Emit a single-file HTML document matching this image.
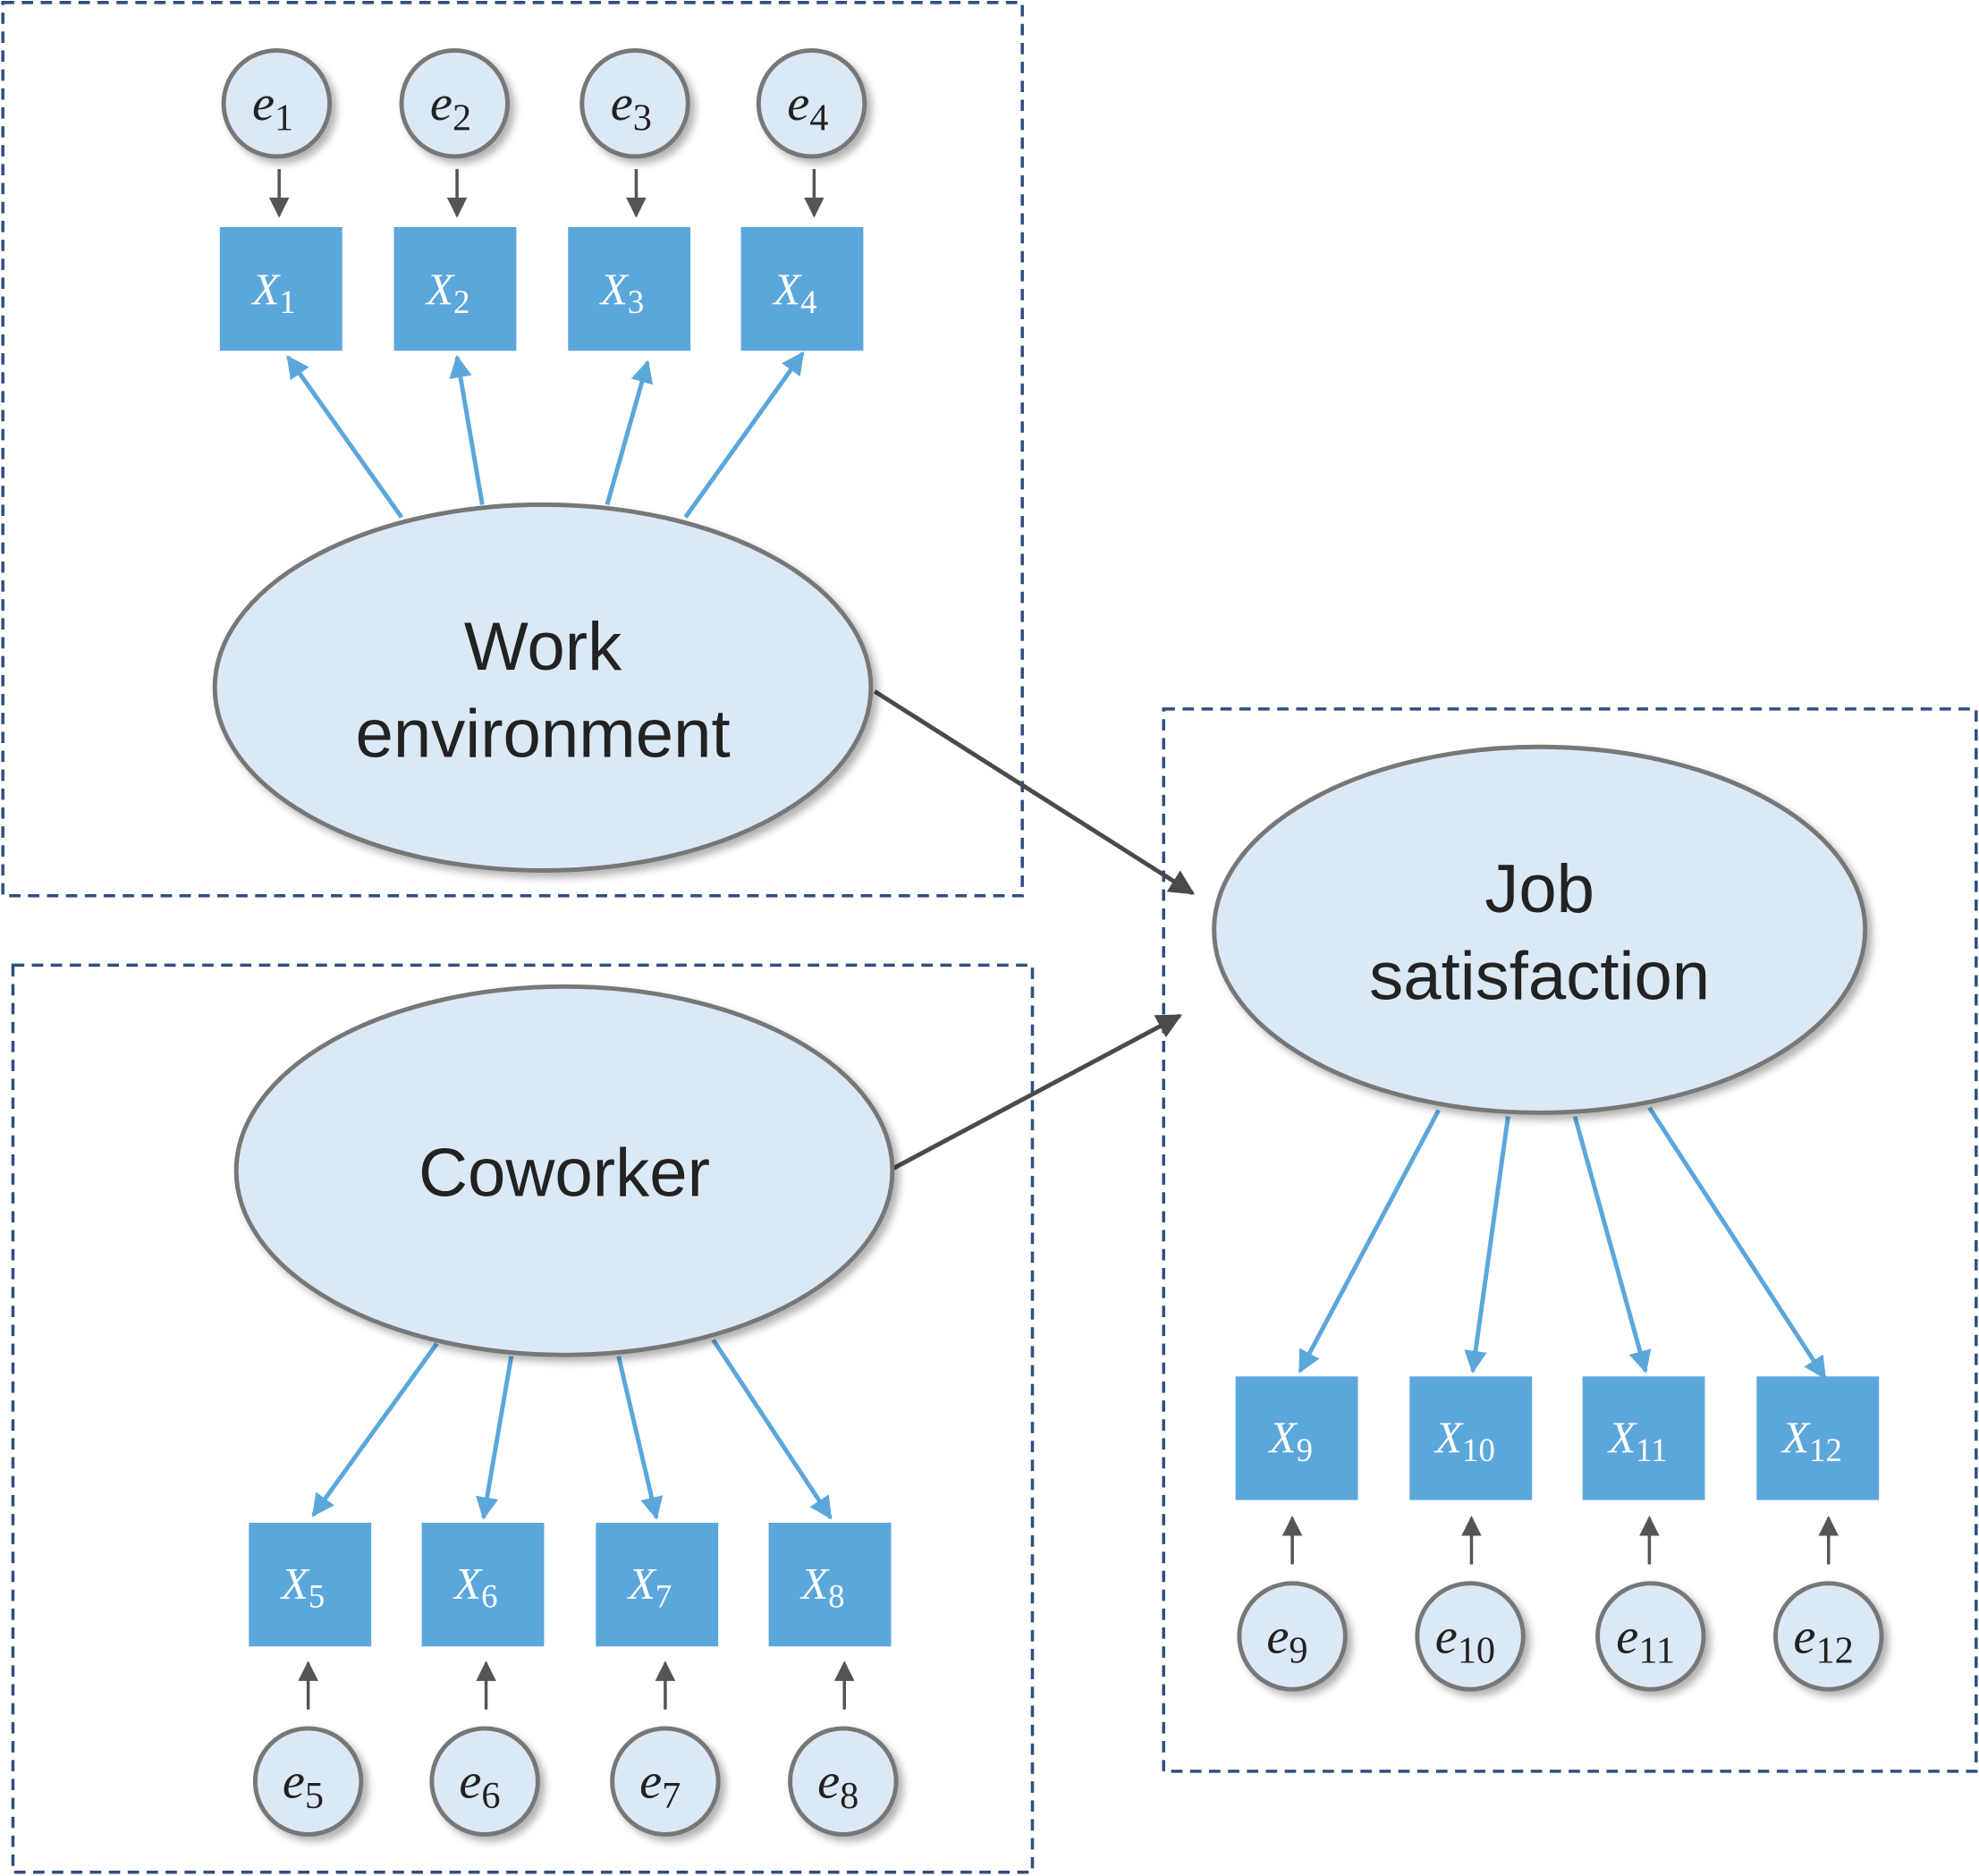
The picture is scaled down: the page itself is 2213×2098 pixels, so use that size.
<!DOCTYPE html>
<html><head><meta charset="utf-8"><style>
html,body{margin:0;padding:0;background:#fff;}
svg{display:block;}
.e{fill:#dbe9f6;stroke:#777;stroke-width:3.5;filter:url(#sh);}
.sq{fill:#5ba7dc;}
.dk{stroke:#555;stroke-width:2.5;marker-end:url(#ad);}
.bk{stroke:#4a4a4a;stroke-width:3.5;marker-end:url(#ak);}
.box{fill:none;stroke:#2f4f7f;stroke-width:2.5;stroke-dasharray:9 6;}
.lt{font-family:"Liberation Serif",serif;font-style:italic;font-size:40px;fill:#222;text-anchor:middle;}
.xt{font-family:"Liberation Serif",serif;font-style:italic;font-size:35px;fill:#fff;text-anchor:middle;}
.big{font-family:"Liberation Sans",sans-serif;font-size:54px;fill:#222;text-anchor:middle;}
.ell{fill:#dbe9f6;stroke:#777;stroke-width:3.5;filter:url(#sh);}
</style></head><body>
<svg width="2213" height="2098" viewBox="0 0 1568 1487" xmlns="http://www.w3.org/2000/svg">
<defs>
<filter id="sh" x="-20%" y="-20%" width="150%" height="150%"><feDropShadow dx="4" dy="4" stdDeviation="3" flood-color="#000" flood-opacity="0.3"/></filter>
<marker id="ad" viewBox="0 0 10 10" refX="9" refY="5" markerWidth="16" markerHeight="16" orient="auto" markerUnits="userSpaceOnUse"><path d="M0,0 L10,5 L0,10 z" fill="#555"/></marker>
<marker id="ak" viewBox="0 0 10 10" refX="9" refY="5" markerWidth="20" markerHeight="20" orient="auto" markerUnits="userSpaceOnUse"><path d="M0,0 L10,5 L0,10 z" fill="#4a4a4a"/></marker>
<marker id="bb" viewBox="0 0 10 10" refX="9" refY="5" markerWidth="18" markerHeight="18" orient="auto" markerUnits="userSpaceOnUse"><path d="M0,0 L10,5 L0,10 z" fill="#5ba7dc"/></marker>
</defs>
<rect class="box" x="2" y="2" width="808" height="708"/>
<rect class="box" x="10" y="765" width="808" height="719"/>
<rect class="box" x="922" y="562" width="644" height="842"/>

<g stroke="#5ba7dc" stroke-width="3.5">
<line x1="318" y1="410" x2="228" y2="283" marker-end="url(#bb)"/>
<line x1="382" y1="400" x2="362" y2="283" marker-end="url(#bb)"/>
<line x1="481" y1="400" x2="513" y2="287" marker-end="url(#bb)"/>
<line x1="543" y1="410" x2="636" y2="280" marker-end="url(#bb)"/>
<line x1="1140" y1="880" x2="1030" y2="1087" marker-end="url(#bb)"/>
<line x1="1195" y1="885" x2="1167" y2="1087" marker-end="url(#bb)"/>
<line x1="1248" y1="885" x2="1304" y2="1087" marker-end="url(#bb)"/>
<line x1="1307" y1="878" x2="1446" y2="1092" marker-end="url(#bb)"/>
<line x1="346" y1="1065" x2="248" y2="1201" marker-end="url(#bb)"/>
<line x1="405" y1="1075" x2="383" y2="1203" marker-end="url(#bb)"/>
<line x1="490" y1="1075" x2="520" y2="1203" marker-end="url(#bb)"/>
<line x1="565" y1="1062" x2="658" y2="1203" marker-end="url(#bb)"/>
</g>
<line class="bk" x1="693" y1="548" x2="945" y2="708"/>
<line class="bk" x1="708" y1="926" x2="935" y2="805"/>

<ellipse class="ell" cx="430" cy="545" rx="260" ry="145"/>
<text class="big" x="430" y="531">Work</text>
<text class="big" x="430" y="600">environment</text>
<ellipse class="ell" cx="1220" cy="737" rx="258" ry="145"/>
<text class="big" x="1220" y="723">Job</text>
<text class="big" x="1220" y="792">satisfaction</text>
<ellipse class="ell" cx="447" cy="928" rx="260" ry="146"/>
<text class="big" x="447" y="948">Coworker</text>

<g>
<circle class="e" cx="219" cy="82" r="42"/><circle class="e" cx="360" cy="82" r="42"/><circle class="e" cx="503" cy="82" r="42"/><circle class="e" cx="643" cy="82" r="42"/>
<text class="lt" x="216" y="95">e<tspan font-style="normal" font-size="30" dy="8">1</tspan></text>
<text class="lt" x="357" y="95">e<tspan font-style="normal" font-size="30" dy="8">2</tspan></text>
<text class="lt" x="500" y="95">e<tspan font-style="normal" font-size="30" dy="8">3</tspan></text>
<text class="lt" x="640" y="95">e<tspan font-style="normal" font-size="30" dy="8">4</tspan></text>
<line class="dk" x1="221" y1="134" x2="221" y2="171"/><line class="dk" x1="362" y1="134" x2="362" y2="171"/><line class="dk" x1="504" y1="134" x2="504" y2="171"/><line class="dk" x1="645" y1="134" x2="645" y2="171"/>
<rect class="sq" x="174" y="180" width="97" height="98"/><rect class="sq" x="312" y="180" width="97" height="98"/><rect class="sq" x="450" y="180" width="97" height="98"/><rect class="sq" x="587" y="180" width="97" height="98"/>
<text class="xt" x="217" y="241">X<tspan font-style="normal" font-size="26" dy="7">1</tspan></text>
<text class="xt" x="355" y="241">X<tspan font-style="normal" font-size="26" dy="7">2</tspan></text>
<text class="xt" x="493" y="241">X<tspan font-style="normal" font-size="26" dy="7">3</tspan></text>
<text class="xt" x="630" y="241">X<tspan font-style="normal" font-size="26" dy="7">4</tspan></text>
</g>

<g>
<rect class="sq" x="197" y="1207" width="97" height="98"/><rect class="sq" x="334" y="1207" width="97" height="98"/><rect class="sq" x="472" y="1207" width="97" height="98"/><rect class="sq" x="609" y="1207" width="97" height="98"/>
<text class="xt" x="240" y="1267">X<tspan font-style="normal" font-size="26" dy="7">5</tspan></text>
<text class="xt" x="377" y="1267">X<tspan font-style="normal" font-size="26" dy="7">6</tspan></text>
<text class="xt" x="515" y="1267">X<tspan font-style="normal" font-size="26" dy="7">7</tspan></text>
<text class="xt" x="652" y="1267">X<tspan font-style="normal" font-size="26" dy="7">8</tspan></text>
<line class="dk" x1="244" y1="1355" x2="244" y2="1318"/><line class="dk" x1="385" y1="1355" x2="385" y2="1318"/><line class="dk" x1="527" y1="1355" x2="527" y2="1318"/><line class="dk" x1="669" y1="1355" x2="669" y2="1318"/>
<circle class="e" cx="244" cy="1412" r="42"/><circle class="e" cx="384" cy="1412" r="42"/><circle class="e" cx="527" cy="1412" r="42"/><circle class="e" cx="668" cy="1412" r="42"/>
<text class="lt" x="240" y="1425">e<tspan font-style="normal" font-size="30" dy="8">5</tspan></text>
<text class="lt" x="380" y="1425">e<tspan font-style="normal" font-size="30" dy="8">6</tspan></text>
<text class="lt" x="523" y="1425">e<tspan font-style="normal" font-size="30" dy="8">7</tspan></text>
<text class="lt" x="664" y="1425">e<tspan font-style="normal" font-size="30" dy="8">8</tspan></text>
</g>

<g>
<rect class="sq" x="979" y="1091" width="97" height="98"/><rect class="sq" x="1117" y="1091" width="97" height="98"/><rect class="sq" x="1254" y="1091" width="97" height="98"/><rect class="sq" x="1392" y="1091" width="97" height="98"/>
<text class="xt" x="1023" y="1151">X<tspan font-style="normal" font-size="26" dy="7">9</tspan></text>
<text class="xt" x="1161" y="1151">X<tspan font-style="normal" font-size="26" dy="7">10</tspan></text>
<text class="xt" x="1298" y="1151">X<tspan font-style="normal" font-size="26" dy="7">11</tspan></text>
<text class="xt" x="1436" y="1151">X<tspan font-style="normal" font-size="26" dy="7">12</tspan></text>
<line class="dk" x1="1024" y1="1240" x2="1024" y2="1203"/><line class="dk" x1="1166" y1="1240" x2="1166" y2="1203"/><line class="dk" x1="1307" y1="1240" x2="1307" y2="1203"/><line class="dk" x1="1449" y1="1240" x2="1449" y2="1203"/>
<circle class="e" cx="1024" cy="1297" r="42"/><circle class="e" cx="1165" cy="1297" r="42"/><circle class="e" cx="1308" cy="1297" r="42"/><circle class="e" cx="1449" cy="1297" r="42"/>
<text class="lt" x="1020" y="1310">e<tspan font-style="normal" font-size="30" dy="8">9</tspan></text>
<text class="lt" x="1161" y="1310">e<tspan font-style="normal" font-size="30" dy="8">10</tspan></text>
<text class="lt" x="1304" y="1310">e<tspan font-style="normal" font-size="30" dy="8">11</tspan></text>
<text class="lt" x="1445" y="1310">e<tspan font-style="normal" font-size="30" dy="8">12</tspan></text>
</g>
</svg>
</body></html>
